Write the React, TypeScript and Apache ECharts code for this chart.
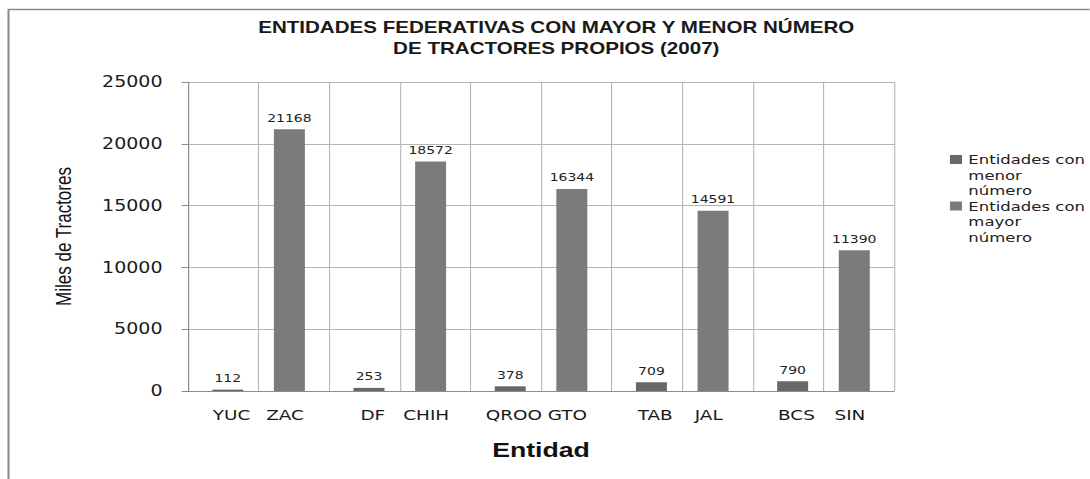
import React, { useEffect, useRef } from "react";
import * as echarts from "echarts";

const categories = ["YUC", "ZAC", "DF", "CHIH", "QROO", "GTO", "TAB", "JAL", "BCS", "SIN"];
const menorValues = [112, null, 253, null, 378, null, 709, null, 790, null];
const mayorValues = [null, 21168, null, 18572, null, 16344, null, 14591, null, 11390];
const yTicks = { min: 0, max: 25000, interval: 5000 };
const seriesNames = ["Entidades con menor número", "Entidades con mayor número"];

const SX = 1.27;
const W = 858;
const H = 479;

export default function App() {
  const ref = useRef<HTMLDivElement>(null);
  useEffect(() => {
    if (!ref.current) return;
    const chart = echarts.init(ref.current, undefined, { renderer: "svg" });
    const num = "DejaVu Sans, Verdana, sans-serif";
    const cal = "Liberation Sans, Arial, sans-serif";
    const labelBase = { fontSize: 14.5, fontFamily: num, color: "#1a1a1a" };
    chart.setOption({
      animation: false,
      backgroundColor: "#ffffff",
      title: {
        text: "ENTIDADES FEDERATIVAS CON MAYOR Y MENOR NÚMERO\nDE TRACTORES PROPIOS (2007)",
        left: 433,
        top: 12,
        padding: 5,
        textAlign: "center",
        textStyle: {
          fontSize: 16.2,
          fontWeight: "bold",
          fontFamily: cal,
          color: "#1a1a1a",
          lineHeight: 21,
        },
      },
      graphic: [
        {
          type: "rect",
          silent: true,
          z: -10,
          shape: { x: 6.7, y: 9.5, width: 1000, height: 700 },
          style: { fill: "none", stroke: "#8a8a8a", lineWidth: 1.6 },
        },
      ],
      legend: {
        orient: "vertical",
        left: 743,
        top: 147,
        itemWidth: 9.5,
        itemHeight: 46.5,
        itemGap: 0,
        icon: "path://M0,0h0.01v0.01h-0.01Z M0,3h9.5v9h-9.5Z M0,46.49h0.01v0.01h-0.01Z",
        data: seriesNames,
        formatter: (name: string) => name.replace(" con ", " con\n").replace(" número", "\nnúmero"),
        textStyle: { fontSize: 13, fontFamily: num, color: "#222", lineHeight: 15.5 },
      },
      grid: { left: 148, width: 556, top: 82, height: 309 },
      xAxis: {
        type: "category",
        data: categories,
        boundaryGap: true,
        axisLine: { show: true, lineStyle: { color: "#8c8c8c", width: 1 } },
        axisTick: { show: false },
        axisLabel: {
          show: true,
          interval: 0,
          margin: 17,
          ...labelBase,
          formatter: (v: string, i: number) => (i % 2 === 0 ? `{a|${v}}` : `{b|${v}}`),
          rich: {
            a: { ...labelBase, padding: [0, 0, 0, 13] },
            b: { ...labelBase, padding: [0, 14, 0, 0] },
          },
        },
        splitLine: { show: true, lineStyle: { color: "#b4b4b4", width: 0.85 } },
        name: "Entidad",
        nameLocation: "middle",
        nameGap: 48,
        nameTextStyle: { fontSize: 21, fontWeight: "bold", fontFamily: cal, color: "#111" },
      },
      yAxis: {
        type: "value",
        min: yTicks.min,
        max: yTicks.max,
        interval: yTicks.interval,
        axisLine: { show: true, lineStyle: { color: "#8c8c8c", width: 0.85 } },
        axisTick: { show: true, length: 5, lineStyle: { color: "#8c8c8c" } },
        axisLabel: {
          margin: 20,
          fontSize: 15,
          fontFamily: num,
          color: "#1a1a1a",
          formatter: (v: number) => String(v),
        },
        splitLine: { show: true, lineStyle: { color: "#b4b4b4", width: 1 } },
        name: "Miles de Tractores",
        nameLocation: "middle",
        nameGap: 90,
        nameTextStyle: { fontSize: 17, fontFamily: cal, color: "#111" },
      },
      series: [
        {
          name: seriesNames[1],
          type: "bar",
          data: mayorValues,
          barWidth: 24.4,
          barGap: "-71%",
          itemStyle: { color: "#7b7b7b" },
          label: { show: true, position: "top", distance: 6, fontSize: 11, fontFamily: num, color: "#222" },
        },
        {
          name: seriesNames[0],
          type: "bar",
          data: menorValues,
          barWidth: 24.4,
          barGap: "-71%",
          itemStyle: { color: "#686868" },
          label: { show: true, position: "top", distance: 6, fontSize: 11, fontFamily: num, color: "#222" },
        },
      ],
    });
    return () => chart.dispose();
  }, []);
  return (
    <div
      style={{
        position: "absolute",
        left: 0,
        top: 0,
        width: W,
        height: H,
        transform: `scaleX(${SX})`,
        transformOrigin: "0 0",
      }}
    >
      <div ref={ref} style={{ width: W, height: H }} />
    </div>
  );
}
